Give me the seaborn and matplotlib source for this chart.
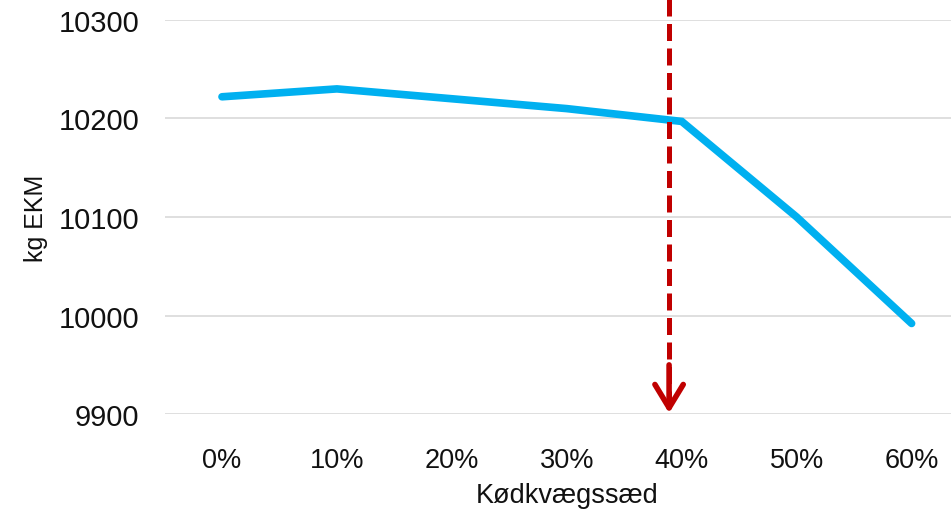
import numpy as np
import pandas as pd
import matplotlib
matplotlib.use("Agg")
import matplotlib.pyplot as plt
import seaborn as sns

# ------------------ DATA ------------------

shares = ["0%", "10%", "20%", "30%", "40%", "50%", "60%"]
kg_ekm = [10222, 10230, 10220, 10210, 10197, 10100, 9992]
arrow_x = 3.89   # marked share, just left of 40%

# ------------------ STYLE ------------------

sns.set_theme(style="white")
plt.rcParams["font.family"] = ["Liberation Sans", "DejaVu Sans"]

LINE_COLOR = "#00B0F0"
ARROW_COLOR = "#C00000"
GRID_COLOR = "#D9D9D9"

df = pd.DataFrame({"pos": np.arange(len(shares)), "value": kg_ekm})

fig = plt.figure(figsize=(9.51, 5.10), dpi=100)
ax = fig.add_axes([0.173, 0.186, 0.846, 0.773])

sns.lineplot(data=df, x="pos", y="value", ax=ax, color=LINE_COLOR,
             linewidth=5.5, solid_capstyle="round", solid_joinstyle="miter",
             zorder=3)

ax.set_xlim(-0.5, len(shares) - 0.5)
ax.set_ylim(9900, 10300)
ax.set_yticks(np.arange(9900, 10301, 100))
ax.set_xticks(df["pos"])
ax.set_xticklabels(shares)

ax.yaxis.grid(True, color=GRID_COLOR, linewidth=1.2)
ax.xaxis.grid(False)
for s in ax.spines.values():
    s.set_visible(False)
ax.tick_params(axis="both", length=0, labelcolor="#111111")
ax.tick_params(axis="x", pad=24, labelsize=19.5)
ax.tick_params(axis="y", pad=18, labelsize=21)

ax.set_xlabel("Kødkvægssæd", fontsize=19.5, color="#111111", labelpad=6)
ax.set_ylabel("kg EKM", fontsize=18, color="#111111", labelpad=8)

# ---------------- Arrow ----------------
ax.plot([arrow_x, arrow_x], [10325, 9915], color=ARROW_COLOR, linewidth=3.6,
        dashes=(3.4, 1.5), clip_on=False, zorder=4)
ax.annotate("", xy=(arrow_x, 9901), xytext=(arrow_x, 9950),
            arrowprops=dict(arrowstyle="->,head_length=1.4,head_width=0.85",
                            color=ARROW_COLOR, linewidth=4,
                            shrinkA=0, shrinkB=0),
            annotation_clip=False, zorder=4)

fig.savefig("out.png", dpi=100)
